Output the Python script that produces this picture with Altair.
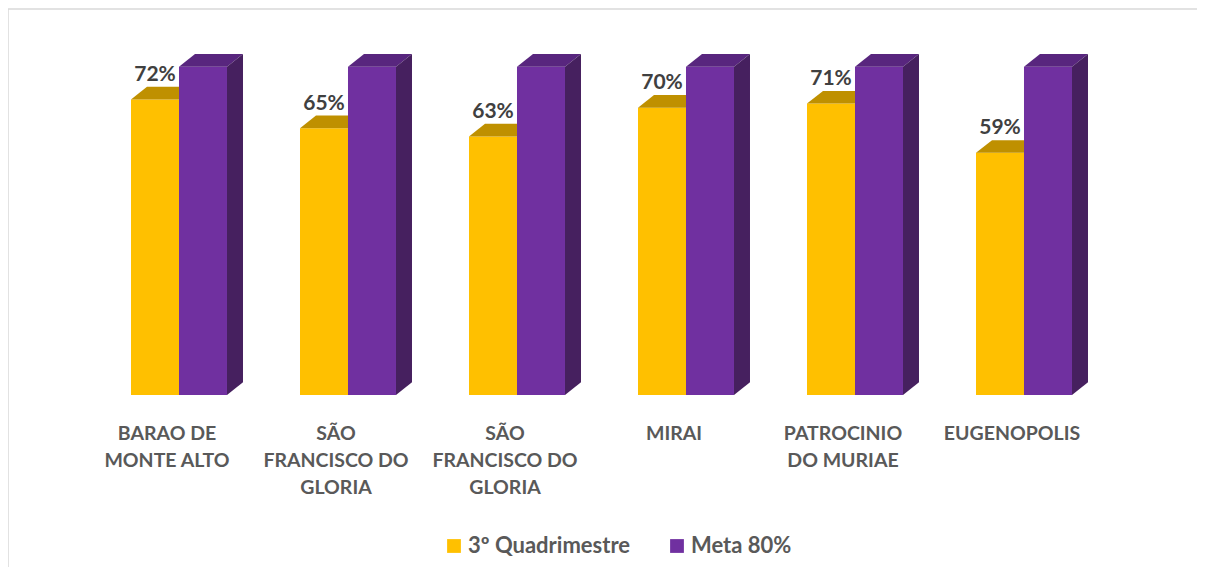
import altair as alt
import pandas as pd

# ---- data ----
categories = [
    "BARAO DE\nMONTE ALTO",
    "SÃO\nFRANCISCO DO\nGLORIA",
    "SÃO\nFRANCISCO DO\nGLORIA",
    "MIRAI",
    "PATROCINIO\nDO MURIAE",
    "EUGENOPOLIS",
]
series = ["3º Quadrimestre", "Meta 80%"]
quadrimestre = [72, 65, 63, 70, 71, 59]
meta = [80, 80, 80, 80, 80, 80]

# ---- styles ----
FRONT = ["#FFC000", "#7030A0"]
TOP = ["#BF9000", "#58267E"]
SIDE = "#46205F"
FONT = "Lato"
FRAME = "#d9d9d9"

# 3-D box geometry, expressed in scale units
W = 0.284     # bar width (category units)
OFF = -0.213  # left edge of first bar relative to category position
DX = 0.0947   # depth, horizontal (category units)
DY = 3.09     # depth, vertical (percentage units)

rows, tops, sides = [], [], []
for i in range(len(categories)):
    for s, vals in enumerate((quadrimestre, meta)):
        v = vals[i]
        left = i + OFF + s * W
        right = left + W
        bid = f"{i}-{s}"
        rows.append(dict(id=bid, cat=i, s=s, series=series[s], value=v, base=0,
                         left=left, right=right, mid=left + W / 2, label=f"{v}%"))
        back_right = right if s == 0 else right + DX
        tops.append(dict(id=bid, s=s, y=v, x=left, x2=right))
        tops.append(dict(id=bid, s=s, y=v + DY, x=left + DX, x2=back_right))
        if s == 1:
            sides.append(dict(id=bid, x=right, y=0, y2=v))
            sides.append(dict(id=bid, x=right + DX, y=DY, y2=v + DY))

bars = pd.DataFrame(rows)
top_df = pd.DataFrame(tops)
side_df = pd.DataFrame(sides)
cat_df = pd.DataFrame(dict(cat=list(range(len(categories))), name=categories))

WIDTH, HEIGHT = 1189, 558
xs = alt.Scale(domain=[-0.9408, 6.0947], nice=False, zero=False)
ys = alt.Scale(domain=[-41.91, 94.05], nice=False, zero=False)

front = alt.Chart(bars).mark_rect().encode(
    x=alt.X("left:Q", scale=xs, axis=None),
    x2="right:Q",
    y=alt.Y("value:Q", scale=ys, axis=None),
    y2="base:Q",
    color=alt.Color(
        "series:N",
        scale=alt.Scale(domain=series, range=FRONT),
        legend=alt.Legend(
            orient="none", legendX=435, legendY=526, direction="horizontal",
            title=None, symbolType="square", symbolSize=190, symbolStrokeWidth=0,
            symbolOpacity=1, labelFont=FONT, labelFontWeight="bold",
            labelFontSize=22, labelColor="#595959", labelLimit=400,
            columnPadding=35, labelOffset=3,
        ),
    ),
)

def top_layer(s):
    return alt.Chart(top_df[top_df.s == s]).mark_area(orient="horizontal", color=TOP[s]).encode(
        y=alt.Y("y:Q", scale=ys, axis=None),
        x=alt.X("x:Q", scale=xs, axis=None),
        x2="x2:Q",
        detail="id:N",
    )

side = alt.Chart(side_df).mark_area(orient="vertical", color=SIDE).encode(
    x=alt.X("x:Q", scale=xs, axis=None),
    y=alt.Y("y:Q", scale=ys, axis=None),
    y2="y2:Q",
    detail="id:N",
)

labels = alt.Chart(bars[bars.s == 0]).mark_text(
    font=FONT, fontWeight="bold", fontSize=21, color="#404040",
    baseline="middle", align="center", dy=-12,
).encode(
    x=alt.X("mid:Q", scale=xs, axis=None),
    y=alt.Y("value:Q", scale=ys, axis=None),
    text="label:N",
).transform_calculate(value=f"datum.value + {DY}")

cats = alt.Chart(cat_df).mark_text(
    font=FONT, fontWeight="bold", fontSize=19.5, color="#595959",
    baseline="top", align="center", lineBreak="\n", lineHeight=27,
).encode(
    x=alt.X("cat:Q", scale=xs, axis=None),
    y=alt.value(416),
    text="name:N",
)

frame_src = alt.Chart(pd.DataFrame({"k": [0]}))
frame_top = frame_src.mark_rule(color=FRAME, strokeWidth=1.5).encode(
    x=alt.value(0), x2=alt.value(WIDTH), y=alt.value(0)
)
frame_left = frame_src.mark_rule(color=FRAME, strokeWidth=1.5).encode(
    x=alt.value(0), y=alt.value(0), y2=alt.value(HEIGHT)
)

chart = alt.layer(frame_top, frame_left, front, top_layer(0), top_layer(1), side, labels, cats).properties(
    width=WIDTH, height=HEIGHT,
    autosize=alt.AutoSizeParams(type="none"),
    padding={"left": 0, "top": 1, "right": 0, "bottom": 0},
    background="white",
).configure_view(strokeWidth=0)

chart.save("out.html", embed_options={"renderer": "svg", "actions": False})
